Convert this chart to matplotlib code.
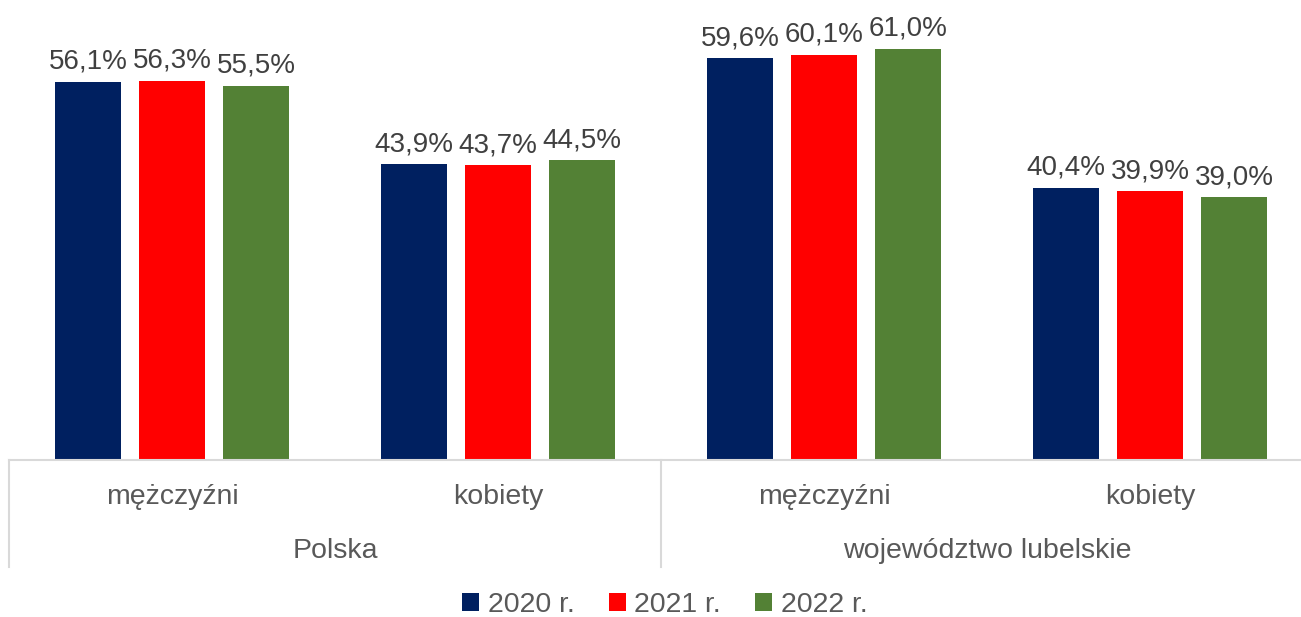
import matplotlib
matplotlib.use('Agg')
import matplotlib.pyplot as plt
import numpy as np
from matplotlib.patches import Patch

plt.rcParams['font.family'] = ['Liberation Sans', 'DejaVu Sans']

categories = ['mężczyźni', 'kobiety', 'mężczyźni', 'kobiety']
groups = ['Polska', 'województwo lubelskie']
years = ['2020 r.', '2021 r.', '2022 r.']
v2020 = [56.1, 43.9, 59.6, 40.4]
v2021 = [56.3, 43.7, 60.1, 39.9]
v2022 = [55.5, 44.5, 61.0, 39.0]
colors = ['#002060', '#FF0000', '#538135']

fig = plt.figure(figsize=(13.01, 6.17), dpi=100)
ax = fig.add_axes([0, 157 / 617, 1, 460 / 617])

x = np.arange(len(categories))
w = 0.2025
step = 0.2577
for i, (vals, c) in enumerate(zip([v2020, v2021, v2022], colors)):
    bars = ax.bar(x + (i - 1) * step, vals, width=w, color=c, zorder=3)
    ax.bar_label(bars, labels=[('%.1f%%' % v).replace('.', ',') for v in vals],
                 padding=5, fontsize=20, color='#404040')

ax.set_xlim(-172 / 326, (1301 - 172) / 326)
ax.set_ylim(0, 460 / 6.74)
for s in ax.spines.values():
    s.set_visible(False)
ax.set_xticks([])
ax.set_yticks([])

# axis line and group separators
line_col = '#D9D9D9'
ax.plot([-0.5, 3.5], [0, 0], color=line_col, lw=1.5, clip_on=False, zorder=4)
tr = ax.get_xaxis_transform()
for xs in [-0.5, 1.5, 3.5]:
    ax.plot([xs, xs], [0, -107 / 460], color=line_col, lw=1.5,
            transform=tr, clip_on=False)

for xi, lab in zip(x, categories):
    ax.text(xi, -37 / 460, lab, transform=tr, ha='center', va='center',
            fontsize=20.5, color='#595959')
for gi, g in enumerate(groups):
    ax.text(2 * gi + 0.5, -91 / 460, g, transform=tr, ha='center', va='center',
            fontsize=20.5, color='#595959')

handles = [Patch(facecolor=c, label=y) for c, y in zip(colors, years)]
fig.legend(handles=handles, loc='center', bbox_to_anchor=(0.511, 1 - 605 / 617),
           ncol=3, frameon=False, fontsize=20.5, labelcolor='#595959',
           handlelength=0.6, handleheight=0.6, handletextpad=0.3,
           columnspacing=1.2)

fig.savefig('out.png', dpi=100)
